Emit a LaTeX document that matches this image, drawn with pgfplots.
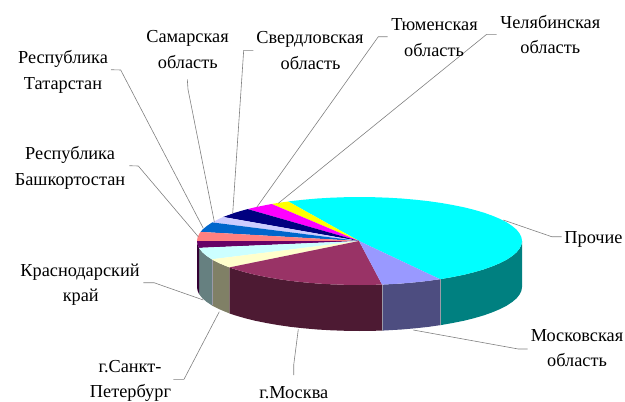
\documentclass[border=0pt]{standalone}
\usepackage{fontspec}
\setmainfont{Liberation Serif}
\usepackage{pgfplots}
\pgfplotsset{compat=1.18}
\definecolor{sCyan}{HTML}{00FFFF}
\definecolor{sYellow}{HTML}{FFFF00}
\definecolor{sMagenta}{HTML}{FF00FF}
\definecolor{sNavy}{HTML}{000080}
\definecolor{sLav}{HTML}{CCCCFF}
\definecolor{sBlue}{HTML}{0066CC}
\definecolor{sSalmon}{HTML}{FF8080}
\definecolor{sPurple}{HTML}{660066}
\definecolor{sLight}{HTML}{CCFFFF}
\definecolor{sCream}{HTML}{FFFFCC}
\definecolor{sPlum}{HTML}{993366}
\definecolor{sPeri}{HTML}{9999FF}
\definecolor{dTeal}{HTML}{008080}
\definecolor{dPeri}{HTML}{4D4D80}
\definecolor{dPlum}{HTML}{4D1A33}
\definecolor{dCream}{HTML}{808066}
\definecolor{dLight}{HTML}{668080}
\definecolor{dPurple}{HTML}{330033}
\definecolor{leader}{HTML}{808080}
\definecolor{seam}{HTML}{9A9AA8}
\tikzset{lab/.style={anchor=base,inner sep=0pt,font=\fontsize{18.3}{20}\selectfont}}
\begin{document}
\begin{tikzpicture}
\begin{axis}[
  scale only axis,width=625pt,height=401pt,
  xmin=0,xmax=625,ymin=0,ymax=401,y dir=reverse,
  hide axis,clip=false,no marks]
% side walls
\addplot[fill=dTeal,draw=none] coordinates {(440,279.2)(440.8,279.1)(452.7,277)(464,274.7)(474.4,272.1)(484,269.3)(492.6,266.2)(500.2,263)(506.8,259.6)(512.2,256)(516.5,252.4)(519.5,248.6)(521.4,244.8)(522,241)
 (522,287)(521.4,290.8)(519.5,294.6)(516.5,298.4)(512.2,302)(506.8,305.6)(500.2,309)(492.6,312.2)(484,315.3)(474.4,318.1)(464,320.7)(452.7,323)(440.8,325.1)(440,325.2)} --cycle;
\addplot[fill=dPeri,draw=none] coordinates {(382.1,284.6)(387.7,284.3)(401.6,283.5)(415.1,282.3)(428.2,280.9)(440,279.2)
 (440,325.2)(428.2,326.9)(415.1,328.3)(401.6,329.5)(387.7,330.3)(382.1,330.6)} --cycle;
\addplot[fill=dPlum,draw=none] coordinates {(229.4,267.4)(235,269.3)(244.6,272.1)(255,274.7)(266.3,277)(278.3,279.1)(290.8,280.9)(303.9,282.3)(317.4,283.5)(331.3,284.3)(345.3,284.8)(359.5,285)(373.7,284.8)(382.1,284.6)
 (382.1,330.6)(373.7,330.8)(359.5,331)(345.3,330.8)(331.3,330.3)(317.4,329.5)(303.9,328.3)(290.8,326.9)(278.3,325.1)(266.3,323)(255,320.7)(244.6,318.1)(235,315.3)(229.4,313.4)} --cycle;
\addplot[fill=dCream,draw=none] coordinates {(211.8,259.3)(212.2,259.6)(218.8,263)(226.4,266.2)(229.4,267.4)
 (229.4,313.4)(226.4,312.2)(218.8,309)(212.2,305.6)(211.8,305.3)} --cycle;
\addplot[fill=dLight,draw=none] coordinates {(199,247.9)(199.5,248.6)(202.5,252.4)(206.8,256)(211.8,259.3)
 (211.8,305.3)(206.8,302)(202.5,298.4)(199.5,294.6)(199,293.9)} --cycle;
\addplot[fill=dPurple,draw=none] coordinates {(197,241)(197.6,244.8)(199,247.9)
 (199,293.9)(197.6,290.8)(197,287)} --cycle;
% seams between wall segments
\addplot[seam,line width=0.5pt] coordinates {(440,279.2)(440,325.2)};
\addplot[seam,line width=0.5pt] coordinates {(382.1,284.6)(382.1,330.6)};
\addplot[seam,line width=0.5pt] coordinates {(211.8,259.3)(211.8,305.3)};
% top slices
\addplot[fill=sCyan,draw=none] coordinates {(359,241)(440,279.2)(440.8,279.1)(452.7,277)(464,274.7)(474.4,272.1)(484,269.3)(492.6,266.2)(500.2,263)(506.8,259.6)(512.2,256)(516.5,252.4)(519.5,248.6)(521.4,244.8)(522,241)(521.4,237.2)(519.5,233.4)(516.5,229.6)(512.2,226)(506.8,222.4)(500.2,219)(492.6,215.8)(484,212.7)(474.4,209.9)(464,207.3)(452.7,205)(440.8,202.9)(428.2,201.1)(415.1,199.7)(401.6,198.5)(387.7,197.7)(373.7,197.2)(359.5,197)(345.3,197.2)(331.3,197.7)(317.4,198.5)(303.9,199.7)(290.8,201.1)(288.3,201.5)} --cycle;
\addplot[fill=sYellow,draw=none] coordinates {(359,241)(288.3,201.5)(278.3,202.9)(271.7,204)} --cycle;
\addplot[fill=sMagenta,draw=none] coordinates {(359,241)(271.7,204)(266.3,205)(255,207.3)(247.6,209.1)} --cycle;
\addplot[fill=sNavy,draw=none] coordinates {(359,241)(247.6,209.1)(244.6,209.9)(235,212.7)(226.4,215.8)(223.2,217)} --cycle;
\addplot[fill=sLav,draw=none] coordinates {(359,241)(223.2,217)(218.8,219)(212.2,222.4)} --cycle;
\addplot[fill=sBlue,draw=none] coordinates {(359,241)(212.2,222.4)(206.8,226)(202.5,229.6)(200.6,231.9)} --cycle;
\addplot[fill=sSalmon,draw=none] coordinates {(359,241)(200.6,231.9)(199.5,233.4)(197.6,237.2)(197,241)} --cycle;
\addplot[fill=sPurple,draw=none] coordinates {(359,241)(197,241)(197.6,244.8)(199,247.9)} --cycle;
\addplot[fill=sLight,draw=none] coordinates {(359,241)(199,247.9)(199.5,248.6)(202.5,252.4)(206.8,256)(211.8,259.3)} --cycle;
\addplot[fill=sCream,draw=none] coordinates {(359,241)(211.8,259.3)(212.2,259.6)(218.8,263)(226.4,266.2)(229.4,267.4)} --cycle;
\addplot[fill=sPlum,draw=none] coordinates {(359,241)(229.4,267.4)(235,269.3)(244.6,272.1)(255,274.7)(266.3,277)(278.3,279.1)(290.8,280.9)(303.9,282.3)(317.4,283.5)(331.3,284.3)(345.3,284.8)(359.5,285)(373.7,284.8)(382.1,284.6)} --cycle;
\addplot[fill=sPeri,draw=none] coordinates {(359,241)(382.1,284.6)(387.7,284.3)(401.6,283.5)(415.1,282.3)(428.2,280.9)(440,279.2)} --cycle;
% leader lines
\addplot[leader,line width=0.6pt] coordinates {(503.3,220)(551.7,236.7)(561.7,236.7)};
\addplot[leader,line width=0.6pt] coordinates {(413.3,330)(518.3,349)(527.7,349)};
\addplot[leader,line width=0.6pt] coordinates {(298.3,329.3)(293.7,365)(293.7,375)};
\addplot[leader,line width=0.6pt] coordinates {(219.3,311.7)(184,379.3)(173.3,379.3)};
\addplot[leader,line width=0.6pt] coordinates {(203.3,300)(154,282.7)(143.3,282.7)};
\addplot[leader,line width=0.6pt] coordinates {(198.3,236.7)(138.3,166)(129.3,165.7)};
\addplot[leader,line width=0.6pt] coordinates {(203.3,228.3)(120.7,70)(111,69.7)};
\addplot[leader,line width=0.6pt] coordinates {(214.3,221.7)(188,89.3)(187.3,79.3)};
\addplot[leader,line width=0.6pt] coordinates {(232.7,213.3)(243.7,50.3)(253.3,50.3)};
\addplot[leader,line width=0.6pt] coordinates {(256.7,207.3)(378.3,36.7)(387.7,36.7)};
\addplot[leader,line width=0.6pt] coordinates {(278.3,203.3)(486.7,34.3)(496.7,34.3)};
% labels
\node[lab] at (axis cs:593.5,243.3) {Прочие};
\node[lab] at (axis cs:577,341) {Московская};
\node[lab] at (axis cs:577,366.7) {область};
\node[lab] at (axis cs:293.8,398.3) {г.Москва};
\node[lab] at (axis cs:130,372) {г.Санкт-};
\node[lab] at (axis cs:130.5,397.7) {Петербург};
\node[lab] at (axis cs:80,276.7) {Краснодарский};
\node[lab] at (axis cs:80.8,301) {край};
\node[lab] at (axis cs:70,159.3) {Республика};
\node[lab] at (axis cs:70,185) {Башкортостан};
\node[lab] at (axis cs:63,63.3) {Республика};
\node[lab] at (axis cs:63,89) {Татарстан};
\node[lab] at (axis cs:187.5,42.3) {Самарская};
\node[lab] at (axis cs:187.8,68) {область};
\node[lab] at (axis cs:310,43.3) {Свердловская};
\node[lab] at (axis cs:310.5,69.3) {область};
\node[lab] at (axis cs:434.5,30.7) {Тюменская};
\node[lab] at (axis cs:434,56) {область};
\node[lab] at (axis cs:550.3,28.3) {Челябинская};
\node[lab] at (axis cs:550.3,53.3) {область};
\path[use as bounding box] (axis cs:0,0) rectangle (axis cs:625,401);
\end{axis}
\end{tikzpicture}
\end{document}
